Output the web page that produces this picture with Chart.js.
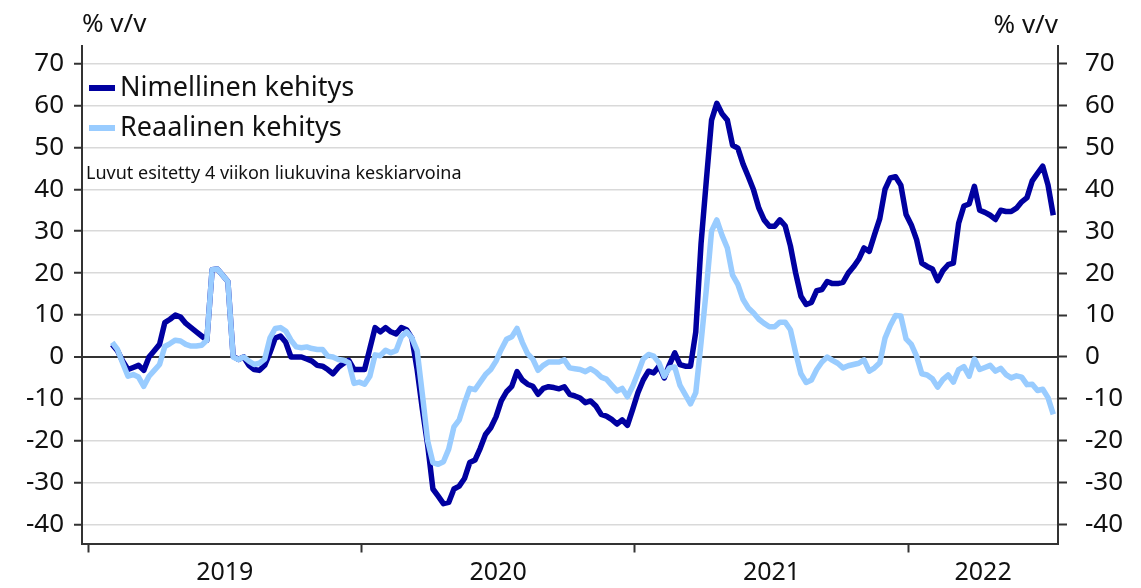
<!DOCTYPE html>
<html>
<head>
<meta charset="utf-8">
<script src="https://cdn.jsdelivr.net/npm/chart.js@4.4.0/dist/chart.umd.min.js"></script>
<style>
  html, body { margin: 0; padding: 0; background: #fff; }
  canvas { display: block; }
</style>
</head>
<body>
<canvas id="chart" width="1141" height="588"></canvas>
<script>
// weekly 4-week moving averages, % y/y, first point = week ~5 of 2019
var firstWeek = 4.6;

var nominal = [
  3, 1.5, -1, -3, -2.5, -2, -3.2, 0, 1.5, 3,
  8.2, 9, 10, 9.5, 8, 7, 6, 5, 4, 20.8,
  21, 19.5, 18, 0.2, -0.6, 0, -2, -3, -3.2, -2,
  1, 4.5, 5, 3.5, 0, 0, 0, -0.5, -1, -2,
  -2.2, -3, -4, -2.5, -1.5, -0.8, -3, -3, -3, 2,
  7, 6, 7, 6, 5.5, 7, 6.5, 4.5, -3, -12.5,
  -21, -31.5, -33.2, -35, -34.7, -31.5, -30.8, -29, -25.2, -24.6,
  -21.8, -18.5, -16.9, -14.3, -10.5, -8.3, -7, -3.5, -5.5, -6.5,
  -7, -8.9, -7.5, -7.1, -7.3, -7.6, -7.1, -8.9, -9.3, -9.8,
  -10.9, -10.5, -11.7, -13.7, -14.1, -14.9, -16, -15, -16.3, -12.5,
  -8.5, -5.5, -3.4, -3.8, -2.2, -5, -1.8, 1, -1.8, -2.2,
  -2.2, 6, 27, 42, 56.5, 60.5, 58, 56.5, 50.5, 49.8,
  46, 43, 39.8, 35.5, 32.7, 31.2, 31.2, 32.7, 31.3, 26.5,
  20, 14.5, 12.5, 13, 15.8, 16.1, 18, 17.5, 17.5, 17.8,
  20, 21.5, 23.3, 26, 25.2, 29.2, 33, 40, 42.7, 43,
  41, 34, 31.5, 28, 22.4, 21.6, 21, 18.2, 20.6, 22,
  22.4, 31.9, 36, 36.5, 40.7, 35, 34.5, 33.8, 32.8, 35,
  34.7, 34.7, 35.5, 37, 38, 42, 43.8, 45.5, 41, 33.8
];

var real = [
  3.5, 1.8, -1.5, -4.6, -4.2, -4.8, -7, -4.6, -3.2, -1.8,
  2.5, 3.2, 4, 3.8, 3, 2.6, 2.6, 2.8, 4, 20.8,
  21, 19.5, 18, 0, -0.6, 0, -1, -1.8, -1.5, -0.5,
  4.5, 6.8, 7, 6.2, 4, 2.4, 2.2, 2.4, 2, 1.8,
  1.8, 0.2, 0, -0.6, -0.8, -1.4, -6.3, -6, -6.5, -4.6,
  0.5, 0.3, 1.6, 1, 1.5, 4.8, 6, 4.5, 1.5, -9,
  -20, -25.2, -25.6, -25, -22, -16.7, -15, -11, -7.5, -7.8,
  -6, -4.2, -3, -1, 1.8, 4.2, 4.8, 6.8, 3.5, 0.8,
  -0.5, -3.2, -2, -1.2, -1.2, -1.2, -0.7, -2.6, -2.8, -3,
  -3.5, -2.8, -3.6, -4.8, -5.3, -6.7, -8.1, -7.5, -9.5, -7,
  -3.8, -0.5, 0.6, 0.2, -1.4, -4.6, -2.6, -2.4, -6.8, -9,
  -11.2, -8.5, 3.4, 16, 30, 32.7, 29, 26, 19.5, 17.3,
  13.7, 11.7, 10.5, 9, 8, 7.2, 7.2, 8.3, 8.3, 6.5,
  1, -4, -6.1, -5.5, -3, -1.2, 0, -0.8, -1.5, -2.6,
  -2.1, -1.8, -1.5, -0.7, -3.4, -2.6, -1.4, 4.5, 7.5, 9.9,
  9.8, 4.3, 3, 0.2, -4, -4.3, -5.2, -7.2, -5.4, -4.3,
  -6, -3, -2.3, -4.6, -0.5, -3, -2.5, -2, -3.4, -2.7,
  -4.2, -5, -4.5, -4.8, -6.6, -6.5, -8, -7.7, -9.7, -13.7
];

var years = ['2019', '2020', '2021', '2022'];
var yearStarts = [0, 52, 104, 156];
var yTicks = [-40, -30, -20, -10, 0, 10, 20, 30, 40, 50, 60, 70];

var seriesNames = ['Nimellinen kehitys', 'Reaalinen kehitys'];
var note = 'Luvut esitetty 4 viikon liukuvina keskiarvoina';
var unitLabel = '% v/v';

var xMin = -1.15, xMax = 184.5;
var yMin = -44.5, yMax = 74.3;

var DARK = '#0000a0';
var LIGHT = '#99ccff';
var FONT = "'Noto Sans', sans-serif";

function toPoints(arr) {
  return arr.map(function(v, i) { return {x: firstWeek + i, y: v}; });
}

// year label positions: middle of each year span (last one until axis end)
var yearMids = yearStarts.map(function(s, i) {
  var e = i < yearStarts.length - 1 ? yearStarts[i + 1] : xMax;
  return (s + e) / 2;
});

var textPlugin = {
  id: 'texts',
  afterDraw: function(chart) {
    var ctx = chart.ctx;
    ctx.save();
    ctx.fillStyle = '#111';
    ctx.textBaseline = 'middle';
    ctx.font = '26px ' + FONT;
    ctx.textAlign = 'left';
    ctx.fillText(unitLabel, 82, 25);
    ctx.textAlign = 'right';
    ctx.fillText(unitLabel, 1058, 26);

    // legend
    var cols = [DARK, LIGHT];
    var ys = [88, 128];
    ctx.textAlign = 'left';
    ctx.font = '27px ' + FONT;
    for (var k = 0; k < 2; k++) {
      ctx.strokeStyle = cols[k];
      ctx.lineWidth = 6;
      ctx.beginPath();
      ctx.moveTo(89, ys[k]);
      ctx.lineTo(115, ys[k]);
      ctx.stroke();
      ctx.fillText(seriesNames[k], 120, ys[k]);
    }

    ctx.font = '18px ' + FONT;
    ctx.fillText(note, 86, 174);
    ctx.restore();
  }
};

var ctx = document.getElementById('chart').getContext('2d');

var chart = new Chart(ctx, {
  type: 'line',
  data: {
    datasets: [{
      label: seriesNames[0],
      data: toPoints(nominal),
      borderColor: DARK,
      borderWidth: 5.5,
      order: 1
    }, {
      label: seriesNames[1],
      data: toPoints(real),
      borderColor: LIGHT,
      borderWidth: 5.5,
      order: 0
    }]
  },
  options: {
    responsive: false,
    animation: false,
    devicePixelRatio: 1,
    layout: { padding: { top: 45.5, left: 0, right: 0, bottom: 0 } },
    elements: {
      point: { radius: 0 },
      line: { tension: 0, borderJoinStyle: 'round', borderCapStyle: 'butt' }
    },
    plugins: {
      legend: { display: false },
      tooltip: { enabled: false }
    },
    scales: {
      x: {
        type: 'linear',
        position: 'bottom',
        min: xMin,
        max: xMax,
        afterBuildTicks: function(s) { s.ticks = yearStarts.map(function(v) { return {value: v}; }); },
        afterFit: function(s) { s.height = 10; },
        ticks: { display: true, callback: function() { return ''; }, padding: 0 },
        grid: { drawOnChartArea: false, drawTicks: true, tickLength: 9, tickColor: '#333', tickWidth: 2 },
        border: { display: true, color: '#333', width: 2 }
      },
      xl: {
        type: 'linear',
        position: 'bottom',
        min: xMin,
        max: xMax,
        afterBuildTicks: function(s) { s.ticks = yearMids.map(function(v) { return {value: v}; }); },
        afterFit: function(s) { s.height = 34.5; },
        ticks: {
          color: '#111',
          font: { family: FONT, size: 25 },
          padding: 4,
          maxRotation: 0,
          autoSkip: false,
          callback: function(v, i) { return years[i]; }
        },
        grid: { display: false, drawTicks: false },
        border: { display: false }
      },
      y: {
        position: 'left',
        min: yMin,
        max: yMax,
        afterBuildTicks: function(s) { s.ticks = yTicks.map(function(v) { return {value: v}; }); },
        afterFit: function(s) { s.width = 82; },
        ticks: { color: '#111', font: { family: FONT, size: 26 }, padding: 10 },
        grid: {
          color: function(c) { return c.tick && c.tick.value === 0 ? '#333' : '#d9d9d9'; },
          lineWidth: function(c) { return c.tick && c.tick.value === 0 ? 2 : 1.5; },
          tickColor: '#333',
          tickLength: 8,
          tickWidth: 2
        },
        border: { display: true, color: '#333', width: 2 }
      },
      y2: {
        position: 'right',
        min: yMin,
        max: yMax,
        afterBuildTicks: function(s) { s.ticks = yTicks.map(function(v) { return {value: v}; }); },
        afterFit: function(s) { s.width = 83; },
        ticks: { color: '#111', font: { family: FONT, size: 26 }, padding: 18 },
        grid: { drawOnChartArea: false, tickColor: '#333', tickLength: 9, tickWidth: 2 },
        border: { display: true, color: '#333', width: 2 }
      }
    }
  },
  plugins: [textPlugin]
});
</script>
</body>
</html>
